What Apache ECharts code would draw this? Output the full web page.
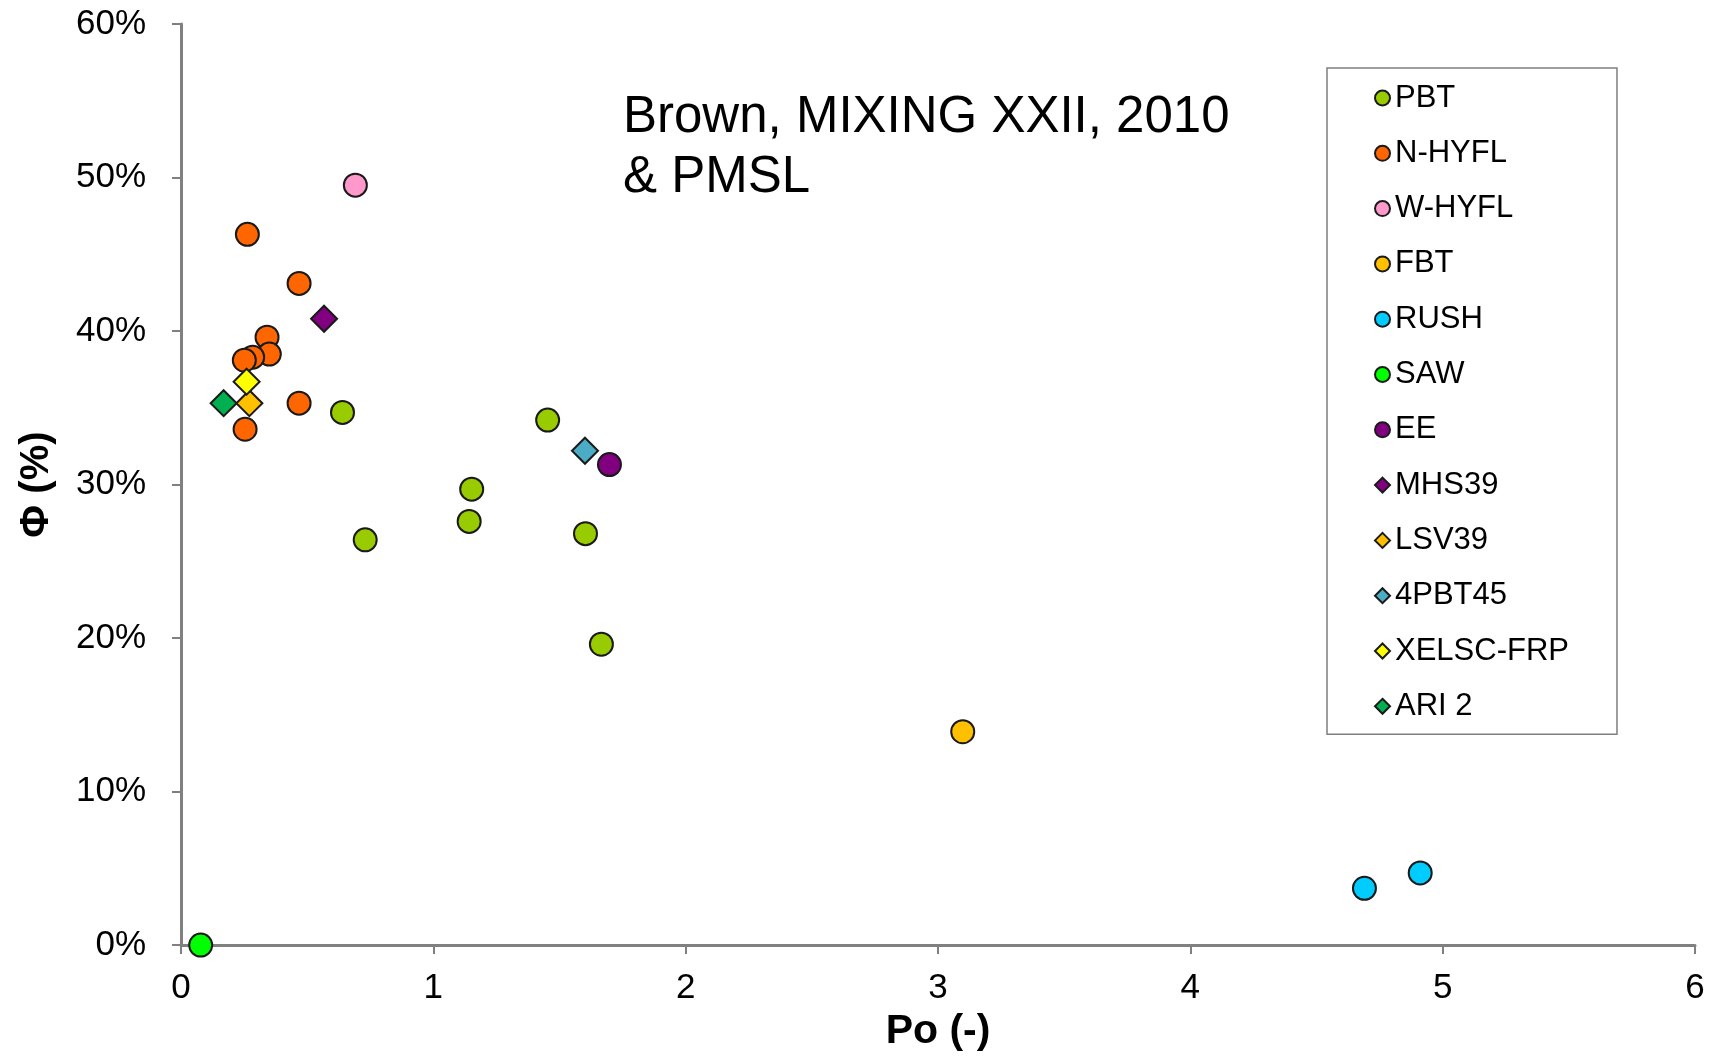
<!DOCTYPE html>
<html>
<head>
<meta charset="utf-8">
<script src="https://cdn.jsdelivr.net/npm/echarts@6/dist/echarts.min.js"></script>
<style>
html,body{margin:0;padding:0;background:#fff;}
#chart{width:1717px;height:1057px;}
</style>
</head>
<body>
<div id="chart"></div>
<script>
// Series data: [Po (-), phi (fraction)]
const PBT = [[0.640,0.347],[0.730,0.264],[1.152,0.297],[1.142,0.276],[1.453,0.342],[1.603,0.268],[1.666,0.196]];
const N_HYFL = [[0.263,0.463],[0.468,0.431],[0.341,0.396],[0.350,0.385],[0.284,0.383],[0.251,0.381],[0.468,0.353],[0.254,0.336]];
const W_HYFL = [[0.691,0.495]];
const FBT = [[3.098,0.139]];
const RUSH = [[4.690,0.037],[4.911,0.047]];
const SAW = [[0.078,0.000]];
const EE = [[1.698,0.313]];
const MHS39 = [[0.567,0.408]];
const LSV39 = [[0.271,0.353]];
const PBT45 = [[1.601,0.322]];
const XELSC = [[0.260,0.367]];
const ARI2 = [[0.169,0.353]];

const seriesNames = ['PBT','N-HYFL','W-HYFL','FBT','RUSH','SAW','EE','MHS39','LSV39','4PBT45','XELSC-FRP','ARI 2'];
const seriesData = [PBT, N_HYFL, W_HYFL, FBT, RUSH, SAW, EE, MHS39, LSV39, PBT45, XELSC, ARI2];
const seriesColors = ['#99CC00','#FF6600','#FF99CC','#FFC000','#00CCFF','#00FF00','#800080','#800080','#FFC000','#4BACC6','#FFFF00','#00B050'];
const seriesSymbols = ['circle','circle','circle','circle','circle','circle','circle','diamond','diamond','diamond','diamond','diamond'];

const xTicks = [0,1,2,3,4,5,6];
const yTickLabels = ['0%','10%','20%','30%','40%','50%','60%'];

const FONT = '"Liberation Sans", Arial, sans-serif';

const chart = echarts.init(document.getElementById('chart'), null, {renderer:'canvas'});

const series = seriesNames.map((name, i) => ({
  name: name,
  type: 'scatter',
  data: seriesData[i],
  symbol: seriesSymbols[i],
  symbolSize: seriesSymbols[i] === 'diamond' ? 26 : 23,
  itemStyle: {color: seriesColors[i], borderColor: '#1a1a1a', borderWidth: 2, opacity: 1},
  emphasis: {disabled: true},
  z: 3
}));

chart.setOption({
  animation: false,
  backgroundColor: '#fff',
  textStyle: {fontFamily: FONT},
  title: {
    text: 'Brown, MIXING XXII, 2010\n& PMSL',
    left: 618,
    top: 83,
    textStyle: {fontFamily: FONT, fontSize: 51, fontWeight: 'normal', color: '#000', lineHeight: 60}
  },
  grid: {left: 181, right: 22, top: 24, bottom: 110, containLabel: false},
  xAxis: {
    type: 'value', min: 0, max: 6, interval: 1,
    name: 'Po (-)', nameLocation: 'middle', nameGap: 62,
    nameTextStyle: {fontFamily: FONT, fontSize: 41, fontWeight: 'bold', color: '#000'},
    axisLine: {show: true, onZero: false, lineStyle: {color: '#808080', width: 3}},
    axisTick: {show: true, inside: false, length: 9, lineStyle: {color: '#808080', width: 2}},
    axisLabel: {margin: 26, fontFamily: FONT, fontSize: 35, color: '#000', formatter: v => String(xTicks[Math.round(v)])},
    splitLine: {show: false}
  },
  yAxis: {
    type: 'value', min: 0, max: 0.6, interval: 0.1,
    name: 'Φ (%)', nameLocation: 'middle', nameGap: 124, nameRotate: 90,
    nameTextStyle: {fontFamily: FONT, fontSize: 40, fontWeight: 'bold', color: '#000'},
    axisLine: {show: true, onZero: false, lineStyle: {color: '#808080', width: 3}},
    axisTick: {show: true, inside: false, length: 9, lineStyle: {color: '#808080', width: 2}},
    axisLabel: {margin: 35, fontFamily: FONT, fontSize: 35, color: '#000', formatter: v => yTickLabels[Math.round(v*10)]},
    splitLine: {show: false}
  },
  legend: {
    orient: 'vertical',
    left: 1327, top: 68,
    padding: [12, 48, 10, 47],
    itemGap: 19.3,
    itemWidth: 15, itemHeight: 15,
    borderColor: '#7f7f7f', borderWidth: 1.5,
    backgroundColor: '#fff',
    textStyle: {fontFamily: FONT, fontSize: 31, color: '#000', lineHeight: 36},
    data: seriesNames.map(n => ({name: n}))
  },
  series: series
});
</script>
</body>
</html>
